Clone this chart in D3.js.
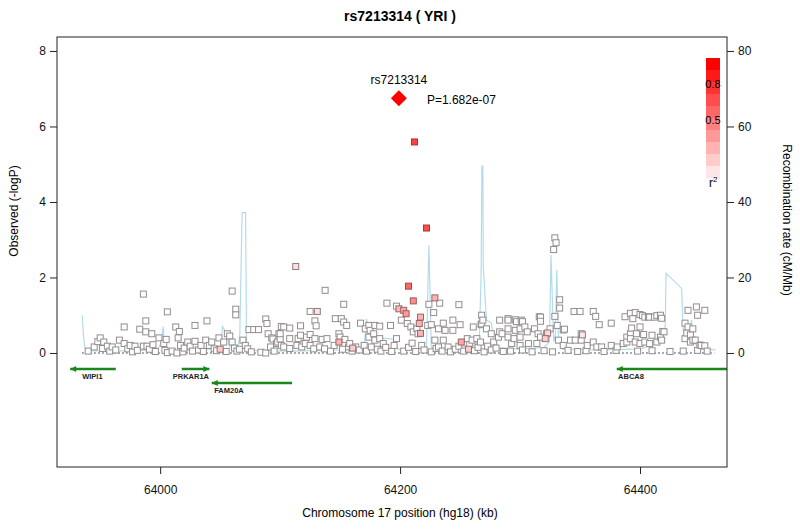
<!DOCTYPE html>
<html>
<head>
<meta charset="utf-8">
<script src="https://cdn.jsdelivr.net/npm/d3@7"></script>
<style>
  body { margin: 0; background: #fff; }
  svg text { font-family: "Liberation Sans", Arial, Helvetica, sans-serif; }
</style>
</head>
<body>
<div id="chart"></div>
<script>
// Data
var titleText = "rs7213314 ( YRI )";
var leadSnp = { name: "rs7213314", kb: 64199, logp: 6.75, p: "P=1.682e-07" };

// SNPs with no visible LD colour: [position kb, -logP]
var snpsPlain = [
  [63940,0.05],[63945,0.16],[63948,0.30],[63950,0.40],[63952,0.12],[63953,0.29],[63956,0.18],[63958,0.05],
  [63960,0.16],[63963,0.08],[63966,0.34],[63970,0.69],[63970,0.25],[63973,0.11],[63975,0.20],[63977,0.03],
  [63979,0.18],[63981,0.07],[63983,0.63],[63986,0.18],[63986,1.56],[63988,0.85],[63988,0.56],[63989,0.18],
  [63991,0.10],[63993,0.51],[63994,0.22],[63996,0.04],[63999,0.40],
  [64003,0.25],[64004,0.07],[64005,0.36],[64006,1.09],[64006,0.01],[64010,0.05],[64013,0.69],[64014,0.00],
  [64015,0.40],[64016,0.57],[64017,0.20],[64019,0.03],[64020,0.13],[64023,0.29],[64025,0.18],[64027,0.05],
  [64029,0.73],[64029,0.31],[64032,0.08],[64034,0.20],[64036,0.04],[64038,0.34],[64039,0.85],[64041,0.20],
  [64043,0.29],[64045,0.11],[64047,0.06],[64049,0.40],[64053,0.29],[64055,0.04],[64056,0.51],[64058,0.45],
  [64060,1.64],[64060,0.29],[64062,0.13],[64063,1.16],[64063,1.01],[64064,0.05],[64066,0.10],[64069,0.34],
  [64071,0.20],[64073,0.11],[64074,0.62],[64076,0.03],[64078,0.62],[64082,0.62],[64084,0.02],[64088,0.00],
  [64088,0.90],[64089,0.78],[64090,0.51],[64092,0.16],[64093,0.40],[64094,0.37],[64095,0.05],[64097,0.25],
  [64098,0.29],[64099,0.51],[64100,0.37],[64101,0.20],
  [64100,0.51],[64101,0.70],[64103,0.69],[64103,0.16],[64108,0.66],[64108,0.38],[64108,0.12],[64114,0.20],
  [64115,0.38],[64117,0.47],[64117,0.72],[64118,0.16],[64121,0.25],[64122,0.42],[64125,0.49],[64125,1.10],
  [64125,0.20],[64128,0.11],[64129,0.85],[64129,0.38],[64130,0.72],[64133,0.16],[64135,0.36],[64137,0.11],
  [64137.5,1.66],[64139,0.38],[64142,0.05],[64145,0.20],[64146,0.91],[64149,0.51],[64150,0.42],[64151,0.91],
  [64152,0.10],[64153,0.82],[64153,1.29],[64154,0.36],[64155.5,0.73],[64157,0.16],[64158,0.25],[64160,0.05],
  [64163,0.16],[64166,0.08],[64167,0.79],[64170,0.20],[64171,0.64],[64172,0.05],[64174,0.73],[64174,0.42],
  [64175,0.60],[64176,0.16],[64178,0.51],[64179,0.73],[64179,0.34],[64181,0.10],[64183,0.71],[64183,0.38],
  [64184,0.05],[64186,0.25],[64188,0.15],[64189,1.32],[64192,0.73],[64193,0.04],[64195,0.20],[64197,1.24],
  [64197,0.38],
  [64201,0.87],[64203,0.05],[64206,0.78],[64207,0.15],[64209,0.69],[64210,0.26],[64211,0.56],[64213,0.04],
  [64214,0.64],[64215,0.51],[64218,0.20],[64220,0.08],[64223,0.73],[64224,1.29],[64226,0.75],[64226,0.03],
  [64228,1.07],[64229,0.34],[64230,0.12],[64232,0.64],[64232,0.16],[64233,1.32],[64235,0.05],[64236,0.79],
  [64236,0.34],[64237.5,0.60],[64240,0.16],[64242,0.03],[64244,0.87],[64244,0.60],[64246,0.10],[64249,1.28],
  [64249,0.18],[64250,0.75],[64253,0.05],[64256,0.38],[64258,0.22],[64260,0.34],[64261,0.69],[64262,0.06],
  [64264,0.38],[64265,0.15],[64267,0.29],[64267.5,0.75],[64268,1.00],[64268,0.77],[64269,0.87],[64270,0.03],
  [64272,0.64],[64273,0.18],[64276,0.51],[64276,0.08],[64278,0.29],[64280,0.13],[64282,0.42],[64283,0.87],
  [64283,0.56],[64285,0.51],[64286,0.04],
  [64290,0.91],[64290,0.64],[64290,0.87],[64292,0.05],[64293,0.25],[64296,0.88],[64296,0.60],[64297,0.83],
  [64290,0.42],[64295,0.38],[64300,0.64],[64300,0.42],[64300,0.20],[64301,0.87],[64302,0.08],[64302,0.83],
  [64304,0.69],[64306,0.56],[64307,0.25],[64310,0.03],[64312,0.64],[64314,0.25],[64315,0.51],[64316,0.96],
  [64317,0.95],[64317,0.84],[64317,0.42],[64320,0.06],[64322,0.51],[64325,0.64],[64327,0.03],[64328,2.74],
  [64329,3.05],[64330,2.92],[64329,0.97],[64331,0.73],[64332,0.34],[64333,1.41],[64333,1.19],[64336,0.61],
  [64336,0.20],[64337,0.63],[64340,0.07],[64342,0.34],[64345,1.10],[64346,0.34],[64348,0.04],[64350,1.10],
  [64351,0.51],[64351,0.34],[64355,0.06],[64356,0.20],[64361,1.10],[64361,0.29],[64363,0.97],[64364,0.16],
  [64366,0.75],[64368,0.16],[64370,0.04],[64376,0.79],[64376,0.20],[64380,0.07],[64381,0.16],[64386,0.25],
  [64387.5,0.96],[64389,0.42],[64389,0.29],[64392,0.51],[64392,1.05],[64392,0.38],[64393,0.66],[64394,0.91],
  [64396,1.07],[64396,0.29],[64397,0.51],[64398,0.05],[64400,1.02],[64400,0.69],[64400,0.25],[64402,0.99],
  [64403,0.49],[64404,0.95],[64404,0.29],[64407,0.96],[64408,0.95],[64408,0.25],[64410,0.47],[64410,0.06],
  [64412,0.95],[64414,0.99],[64414,0.29],[64417,1.00],[64417,0.42],[64418,0.92],[64418,0.34],[64419,0.57],
  [64420,0.56],[64425,0.04],[64436,0.05],[64437.5,0.79],[64437.5,0.38],[64439,0.53],[64440,0.69],[64440,1.13],
  [64442,0.48],[64442,0.29],[64444,0.64],[64444,0.34],[64446,0.34],[64447,1.22],[64448,1.00],[64448,0.07],
  [64450,0.21],[64451,0.20],[64454,1.13],[64454,0.19],[64456,0.05]
];

// SNPs with LD colour: [position kb, -logP, r2]
var snpsLD = [
  [64212,5.59,0.75],[64222,3.31,0.70],[64207,1.77,0.60],[64211,1.38,0.45],[64229,1.46,0.30],
  [64199,1.17,0.30],[64203,1.13,0.35],[64205,1.04,0.40],[64217,0.95,0.30],[64216,0.78,0.30],
  [64217,0.52,0.30],[64113,2.29,0.12],[64131,1.10,0.12],[64149,0.29,0.30],[64251,0.29,0.35],
  [64050,0.10,0.20],[64160.5,0.13,0.20],[64257,0.10,0.20],[64323,0.53,0.15],[64321,0.38,0.20],
  [64352,0.48,0.10]
];

// Recombination rate: [position kb, cM/Mb]
var recombRate = [
  [63935,10],[63936,5],[63937,1.5],[63940,0.6],[63960,0.5],[63998,0.8],[64001,3],[64002.5,7],
  [64003.5,1.5],[64006,0.6],[64030,0.8],[64050,1.2],[64052,7],[64056,4.7],[64058,1.5],[64065,1.2],
  [64066.4,5],[64068.3,37.2],[64071.2,37.2],[64072,1.5],[64080,0.6],[64110,0.5],[64150,0.8],
  [64170,1.5],[64172,9],[64175,5],[64182,4],[64190,3.8],[64196,3.5],[64198,1],[64215,1],[64222,1.5],
  [64224,28.6],[64226,1.5],[64235,1.2],[64262,2],[64266,3.5],[64267.5,20],[64268.2,49.5],[64269,49.5],
  [64269.3,23],[64272,8.7],[64276,8],[64279,1.5],[64300,1],[64320,1.5],[64324.5,3],[64325.8,26],
  [64328,3],[64329.5,5],[64330.6,22],[64332,4],[64335,1],[64360,0.8],[64400,1],[64418,3],[64421,7],
  [64421.7,21.1],[64434.7,17.1],[64436,6],[64440,4],[64443,8.7],[64444.5,3],[64450,1],[64463,0.8]
];

// Genes
var geneNames = ["WIPI1", "PRKAR1A", "FAM20A", "ABCA8"];
var geneStart = [63925, 64018, 64043, 64380.6];
var geneEnd = [63963, 64041, 64110, 64472.5];
var geneStrand = ["-", "+", "-", "-"];
var geneRow = [0, 0, 1, 0];
var geneLabelKb = [63935, 64010.5, 64045, 64381.7];

var yTicks = [0, 2, 4, 6, 8];
var recombTicks = [0, 20, 40, 60, 80];
var xTicks = [64000, 64200, 64400];
var legendR2 = [1.0, 0.9, 0.8, 0.7, 0.6, 0.5, 0.4, 0.3, 0.2, 0.1];
var legendLabels = [0.8, 0.5];

function drawPlot() {
    var width = 800, height = 530;
    var pLeft = 57, pRight = 727, pTop = 37, pBottom = 467;

    var svg = d3.select("#chart").append("svg")
        .attr("width", width)
        .attr("height", height);

    var x = d3.scaleLinear().domain([63914, 64472.5]).range([pLeft, pRight]);
    var y = d3.scaleLinear().domain([-3.02, 8.37]).range([pBottom, pTop]);
    var yr = d3.scaleLinear().domain([-30.2, 83.7]).range([pBottom, pTop]);

    var ldFill = d3.interpolateRgb("#ffffff", "#ff0000");
    var ldStroke = d3.interpolateRgb("#8a8a8a", "#b01818");

    svg.append("defs").append("clipPath").attr("id", "plotclip")
        .append("rect").attr("x", pLeft).attr("y", pTop)
        .attr("width", pRight - pLeft).attr("height", pBottom - pTop);

    var plot = svg.append("g").attr("clip-path", "url(#plotclip)");

    // recombination line under the points
    var recLine = d3.line()
        .x(function (d) { return x(d[0]); })
        .y(function (d) { return yr(d[1]); });

    plot.append("path")
        .datum(recombRate)
        .attr("fill", "none")
        .attr("stroke", "#b3dcea")
        .attr("stroke-width", 1.2)
        .attr("d", recLine);

    // dotted baseline
    plot.append("line")
        .attr("x1", x(63935)).attr("x2", x(64462))
        .attr("y1", y(0)).attr("y2", y(0))
        .attr("stroke", "#5a6a84")
        .attr("stroke-width", 1.6)
        .attr("stroke-dasharray", "1.5,2.5");

    // plain SNPs
    plot.selectAll(".snp")
        .data(snpsPlain)
        .enter().append("rect")
        .attr("class", "snp")
        .attr("x", function (d) { return x(d[0]) - 3; })
        .attr("y", function (d) { return y(d[1]) - 3; })
        .attr("width", 6).attr("height", 6)
        .attr("fill", "#ffffff")
        .attr("stroke", "#938d8d")
        .attr("stroke-width", 1);

    // LD coloured SNPs
    plot.selectAll(".ld")
        .data(snpsLD.slice().sort(function (a, b) { return a[2] - b[2]; }))
        .enter().append("rect")
        .attr("class", "ld")
        .attr("x", function (d) { return x(d[0]) - 3; })
        .attr("y", function (d) { return y(d[1]) - 3; })
        .attr("width", 6).attr("height", 6)
        .attr("fill", function (d) { return ldFill(d[2]); })
        .attr("stroke", function (d) { return ldStroke(d[2]); })
        .attr("stroke-width", 1);

    // lead SNP
    plot.append("path")
        .attr("d", d3.symbol().type(d3.symbolSquare).size(128)())
        .attr("transform", "translate(" + x(leadSnp.kb) + "," + y(leadSnp.logp) + ") rotate(45)")
        .attr("fill", "#ff0000");

    svg.append("text")
        .attr("x", x(leadSnp.kb)).attr("y", y(leadSnp.logp) - 14)
        .attr("text-anchor", "middle")
        .attr("font-size", 12)
        .text(leadSnp.name);

    svg.append("text")
        .attr("x", x(leadSnp.kb) + 28).attr("y", y(leadSnp.logp) + 6)
        .attr("font-size", 12)
        .text(leadSnp.p);

    // genes
    var arrowHead = 6, arrowHalf = 3;
    geneNames.forEach(function (name, i) {
        var gy = y(0) + 16 + geneRow[i] * 14;
        var x0 = x(geneStart[i]), x1 = x(geneEnd[i]);
        var g = plot.append("g");
        g.append("line")
            .attr("x1", x0).attr("x2", x1)
            .attr("y1", gy).attr("y2", gy)
            .attr("stroke", "#1b861b")
            .attr("stroke-width", 2.5);
        var tip = geneStrand[i] === "+" ? x1 : x0;
        var dir = geneStrand[i] === "+" ? -1 : 1;
        g.append("path")
            .attr("d", "M" + tip + "," + gy + "L" + (tip + dir * arrowHead) + "," + (gy - arrowHalf) +
                "L" + (tip + dir * arrowHead) + "," + (gy + arrowHalf) + "Z")
            .attr("fill", "#1b861b");
        svg.append("text")
            .attr("x", x(geneLabelKb[i])).attr("y", gy + 10)
            .attr("font-size", 7.5)
            .attr("font-weight", "bold")
            .attr("fill", "#222")
            .text(name);
    });

    // box
    svg.append("rect")
        .attr("x", pLeft).attr("y", pTop)
        .attr("width", pRight - pLeft).attr("height", pBottom - pTop)
        .attr("fill", "none")
        .attr("stroke", "#222")
        .attr("stroke-width", 1);

    // axes
    var yAxis = svg.append("g")
        .attr("transform", "translate(" + pLeft + ",0)")
        .call(d3.axisLeft(y).tickValues(yTicks).tickSize(7).tickPadding(4));
    var rAxis = svg.append("g")
        .attr("transform", "translate(" + pRight + ",0)")
        .call(d3.axisRight(yr).tickValues(recombTicks).tickSize(7).tickPadding(4));
    var xAxis = svg.append("g")
        .attr("transform", "translate(0," + pBottom + ")")
        .call(d3.axisBottom(x).tickValues(xTicks).tickFormat(d3.format("d")).tickSize(7).tickPadding(11));

    [yAxis, rAxis, xAxis].forEach(function (a) {
        a.select(".domain").remove();
        a.selectAll("text").attr("font-size", 12).attr("fill", "#111")
            .attr("font-family", "Liberation Sans, Arial, sans-serif");
        a.selectAll("line").attr("stroke", "#222");
    });

    // titles
    svg.append("text")
        .attr("x", 400).attr("y", 21)
        .attr("text-anchor", "middle")
        .attr("font-size", 14)
        .attr("font-weight", "bold")
        .text(titleText);

    svg.append("text")
        .attr("x", 400).attr("y", 517)
        .attr("text-anchor", "middle")
        .attr("font-size", 12)
        .text("Chromosome 17 position (hg18) (kb)");

    svg.append("text")
        .attr("transform", "translate(18,211) rotate(-90)")
        .attr("text-anchor", "middle")
        .attr("font-size", 12)
        .text("Observed (-logP)");

    svg.append("text")
        .attr("transform", "translate(783,220) rotate(90)")
        .attr("text-anchor", "middle")
        .attr("font-size", 12)
        .text("Recombination rate (cM/Mb)");

    // r2 legend
    var legX = 706, legY = 58, legW = 14, legH = 12;
    var legend = svg.append("g");
    legend.selectAll("rect")
        .data(legendR2)
        .enter().append("rect")
        .attr("x", legX)
        .attr("y", function (d, i) { return legY + i * legH; })
        .attr("width", legW).attr("height", legH + 0.5)
        .attr("fill", function (d) { return ldFill(d); });

    legend.selectAll(".lab")
        .data(legendLabels)
        .enter().append("text")
        .attr("class", "lab")
        .attr("x", legX + legW / 2)
        .attr("y", function (d) { return legY + (1 - d) * legH * 10 + 6; })
        .attr("text-anchor", "middle")
        .attr("font-size", 11)
        .text(function (d) { return d.toFixed(1); });

    var r2lab = legend.append("text")
        .attr("x", legX + 3).attr("y", legY + 10 * legH + 9)
        .attr("font-size", 12);
    r2lab.append("tspan").text("r");
    r2lab.append("tspan").attr("dy", -5).attr("font-size", 8).text("2");
}

drawPlot();
</script>
</body>
</html>
